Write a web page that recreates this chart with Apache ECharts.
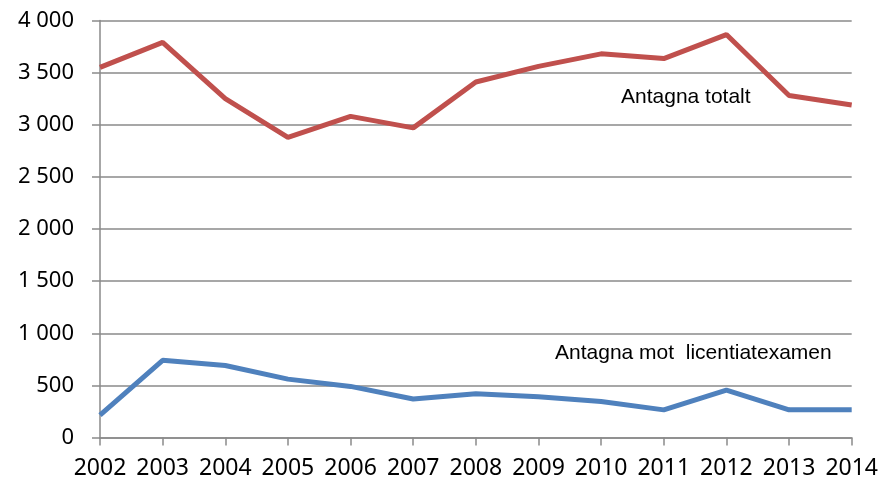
<!DOCTYPE html>
<html>
<head>
<meta charset="utf-8">
<script src="https://cdn.jsdelivr.net/npm/echarts@6/dist/echarts.min.js"></script>
<style>
  html, body { margin: 0; padding: 0; background: #fff; }
  #chart { width: 881px; height: 484px; }
</style>
</head>
<body>
<div id="chart"></div>
<script>
// years on the x axis
var years = ['2002', '2003', '2004', '2005', '2006', '2007', '2008', '2009', '2010', '2011', '2012', '2013', '2014'];
// Antagna totalt (red)
var totalt = [3550, 3790, 3250, 2880, 3080, 2970, 3410, 3560, 3680, 3635, 3865, 3280, 3190];
// Antagna mot licentiatexamen (blue)
var licentiat = [215, 740, 690, 560, 490, 370, 420, 390, 345, 265, 455, 265, 265];
// y ticks
var yTicks = [0, 500, 1000, 1500, 2000, 2500, 3000, 3500, 4000];

var gridGrey = '#8a8a8a';

function fmt(v) {
    // thousands with a space, like "4 000"
    return String(v).replace(/\B(?=(\d{3})+(?!\d))/g, ' ');
}

var myChart = echarts.init(document.getElementById('chart'));
var option = {
    animation: false,
    grid: { left: 100, right: 28, top: 20.5, bottom: 46.5, containLabel: false },
    xAxis: {
        type: 'category',
        data: years,
        boundaryGap: false,
        axisLine: { lineStyle: { color: gridGrey, width: 1.5 } },
        axisTick: { show: true, length: 8, interval: 0, lineStyle: { color: gridGrey, width: 1.5 } },
        axisLabel: { color: '#000', fontFamily: 'Noto Sans', fontSize: 23, margin: 19, interval: 0 },
        splitLine: { show: false }
    },
    yAxis: {
        type: 'value',
        min: yTicks[0],
        max: yTicks[yTicks.length - 1],
        interval: 500,
        axisLine: { show: true, lineStyle: { color: gridGrey, width: 1.5 } },
        axisTick: { show: true, length: 8, lineStyle: { color: gridGrey, width: 1.5 } },
        axisLabel: { color: '#000', fontFamily: 'Noto Sans', fontSize: 22, margin: 26, formatter: fmt },
        splitLine: { show: true, lineStyle: { color: gridGrey, width: 1.5 } }
    },
    series: [
        {
            name: 'Antagna totalt',
            type: 'line',
            data: totalt,
            symbol: 'none',
            lineStyle: { color: '#C0504D', width: 5 }
        },
        {
            name: 'Antagna mot  licentiatexamen',
            type: 'line',
            data: licentiat,
            symbol: 'none',
            lineStyle: { color: '#4F81BD', width: 5 }
        }
    ],
    graphic: [
        {
            type: 'text', left: 621, top: 87,
            style: { text: 'Antagna totalt', fill: '#000', fontFamily: 'Liberation Sans', fontSize: 21 }
        },
        {
            type: 'text', left: 555, top: 343,
            style: { text: 'Antagna mot  licentiatexamen', fill: '#000', fontFamily: 'Liberation Sans', fontSize: 21 }
        }
    ]
};
myChart.setOption(option);
window.onresize = myChart.resize;
</script>
</body>
</html>
